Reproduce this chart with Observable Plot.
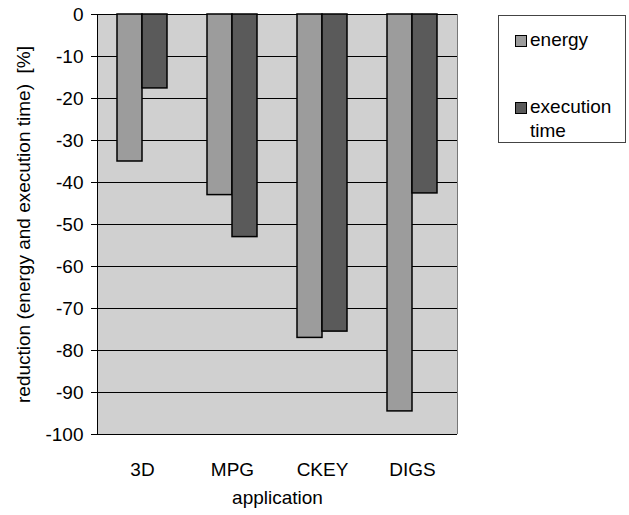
<!DOCTYPE html>
<html>
<head>
<meta charset="utf-8">
<script src="https://cdn.jsdelivr.net/npm/d3@7"></script>
<script src="https://cdn.jsdelivr.net/npm/@observablehq/plot@0.6"></script>
<style>
  body { margin: 0; background: white; }
  #wrap { position: relative; width: 629px; height: 515px; font-family: "Liberation Sans", Arial, sans-serif; }
  #legend { position: absolute; left: 498px; top: 15px; width: 128px; height: 128px; border: 1px solid #444; box-sizing: border-box; font-size: 19px; color: #000; }
  .item { position: absolute; left: 16px; display: flex; align-items: flex-start; line-height: 24px; }
  .sw { width: 10px; height: 10px; border: 1px solid #000; margin-top: 7px; margin-right: 3px; flex: none; }
</style>
</head>
<body>
<div id="wrap">
  <div id="chart"></div>
  <div id="legend"></div>
</div>
<script>
const apps = ["3D", "MPG", "CKEY", "DIGS"];
const series = ["energy", "execution time"];
const energy = [-35, -43, -77, -94.5];
const executionTime = [-17.6, -53, -75.5, -42.6];
const yTicks = [0, -10, -20, -30, -40, -50, -60, -70, -80, -90, -100];
const seriesColors = ["#9c9c9c", "#5a5a5a"];

const data = apps.flatMap((app, i) => [
  {app, series: series[0], value: energy[i]},
  {app, series: series[1], value: executionTime[i]}
]);

const chart = Plot.plot({
  width: 629,
  height: 515,
  marginLeft: 96,
  marginTop: 14,
  marginRight: 172,
  marginBottom: 81,
  style: {fontFamily: "'Liberation Sans', Arial, sans-serif", fontSize: "19px", color: "black", background: "white"},
  fx: {domain: apps, padding: 0},
  x: {domain: series, paddingInner: 0, paddingOuter: 0.735, axis: null},
  y: {domain: [-100, 0]},
  color: {domain: series, range: seriesColors},
  marks: [
    Plot.frame({fill: "#d0d0d0", facet: "super"}),
    Plot.frame({anchor: "bottom", stroke: "#777", strokeDasharray: "1,1", facet: "super"}),
    Plot.frame({anchor: "right", stroke: "#777", strokeDasharray: "1,1", facet: "super"}),
    Plot.ruleY(yTicks, {stroke: "black", strokeWidth: 1}),
    Plot.barY(data, {fx: "app", x: "series", y: "value", fill: "series", stroke: "black", strokeWidth: 1.5}),
    Plot.axisY({
      ticks: yTicks, tickSize: 6, tickPadding: 8, tickFormat: d => String(d),
      label: "reduction (energy and execution time)  [%]", labelAnchor: "center", labelOffset: 81, labelArrow: "none"
    }),
    Plot.frame({anchor: "left", stroke: "black", facet: "super"}),
    Plot.axisFx({anchor: "bottom", tickSize: 0, tickPadding: 28, label: "application", labelAnchor: "center", labelOffset: 69, labelArrow: "none"})
  ]
});
document.getElementById("chart").appendChild(chart);

const legend = document.getElementById("legend");
const tops = [12, 79];
series.forEach((s, i) => {
  const item = document.createElement("div");
  item.className = "item";
  item.style.top = tops[i] + "px";
  const sw = document.createElement("div");
  sw.className = "sw";
  sw.style.background = seriesColors[i];
  const label = document.createElement("div");
  label.style.width = "100px";
  label.textContent = s;
  item.appendChild(sw);
  item.appendChild(label);
  legend.appendChild(item);
});
</script>
</body>
</html>
